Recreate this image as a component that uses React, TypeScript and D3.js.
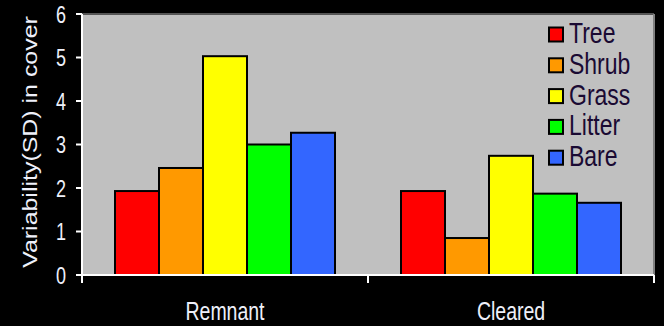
import React from "react";
import * as d3 from "d3";

const sites = ["Remnant", "Cleared"];
const covers = ["Tree", "Shrub", "Grass", "Litter", "Bare"];
const remnant = [1.93, 2.46, 5.03, 3.0, 3.27];
const cleared = [1.93, 0.85, 2.74, 1.87, 1.66];
const coverColors = ["#FF0000", "#FF9900", "#FFFF00", "#00FF00", "#3366FF"];
const yTicks = [0, 1, 2, 3, 4, 5, 6];

const W = 664;
const H = 326;
const left = 82;
const right = 654;
const top = 14;
const bottom = 275;
const stretch = 1.28; // the picture is stretched vertically
const axisText = "#eef0fa";

const App = () => {
  const values = [remnant, cleared];
  const x = d3.scaleBand().domain(sites).range([left, right]);
  const xi = d3
    .scaleBand()
    .domain(covers)
    .range([0, x.bandwidth()])
    .paddingInner(0)
    .paddingOuter(0.75);
  const y = d3.scaleLinear().domain([0, 6]).range([bottom, top]);

  return (
    <svg
      width={W}
      height={H}
      style={{ position: "absolute", left: 0, top: 0, background: "#000" }}
      fontFamily="'Liberation Sans', Arial, sans-serif"
    >
      <rect x={0} y={0} width={W} height={H} fill="#000" />
      {/* plot area */}
      <rect x={left} y={top} width={right - left} height={bottom - top} fill="#C0C0C0" />
      <line x1={left} x2={right} y1={top} y2={top} stroke="#555" strokeWidth={2} />
      <line x1={right} x2={right} y1={top} y2={bottom} stroke="#808080" strokeWidth={2} />

      {/* bars */}
      {sites.map((s, si) => (
        <g key={s} transform={`translate(${x(s)},0)`}>
          {covers.map((c, ci) => (
            <rect
              key={c}
              x={xi(c)}
              y={y(values[si][ci])}
              width={xi.bandwidth()}
              height={y(0) - y(values[si][ci])}
              fill={coverColors[ci]}
              stroke="#000"
              strokeWidth={2}
            />
          ))}
        </g>
      ))}

      {/* y axis */}
      <line x1={left} x2={left} y1={top} y2={bottom + 7} stroke="#fff" strokeWidth={2} />
      {yTicks.map((t) => (
        <g key={t}>
          <line x1={left - 6} x2={left} y1={y(t)} y2={y(t)} stroke="#fff" strokeWidth={2} />
          <text
            transform={`translate(66,${y(t) + 8.5}) scale(1,${stretch})`}
            textAnchor="end"
            fontSize={18}
            fill={axisText}
          >
            {t}
          </text>
        </g>
      ))}
      <text
        transform={`translate(37,142) scale(1,${stretch}) rotate(-90)`}
        textAnchor="middle"
        fontSize={19.5}
        fill={axisText}
      >
        Variability(SD) in cover
      </text>

      {/* x axis */}
      <line x1={left - 6} x2={right} y1={bottom} y2={bottom} stroke="#fff" strokeWidth={2} />
      {[left, ...sites.map((s) => (x(s) as number) + x.bandwidth())].map((p, i) => (
        <line key={i} x1={p} x2={p} y1={bottom} y2={bottom + 8} stroke="#fff" strokeWidth={2} />
      ))}
      {sites.map((s) => (
        <text
          key={s}
          transform={`translate(${(x(s) as number) + x.bandwidth() / 2},320) scale(1,${stretch})`}
          textAnchor="middle"
          fontSize={19.5}
          fill={axisText}
        >
          {s}
        </text>
      ))}

      {/* legend */}
      {covers.map((c, i) => (
        <g key={c} transform={`translate(548,${34.5 + i * 30.8})`}>
          <rect x={1} y={-7} width={14} height={14} fill={coverColors[i]} stroke="#000" strokeWidth={2} />
          <text
            transform={`translate(21,8.5) scale(1,${stretch})`}
            fontSize={23}
            fill="#1a0a33"
          >
            {c}
          </text>
        </g>
      ))}
    </svg>
  );
};

export default App;
